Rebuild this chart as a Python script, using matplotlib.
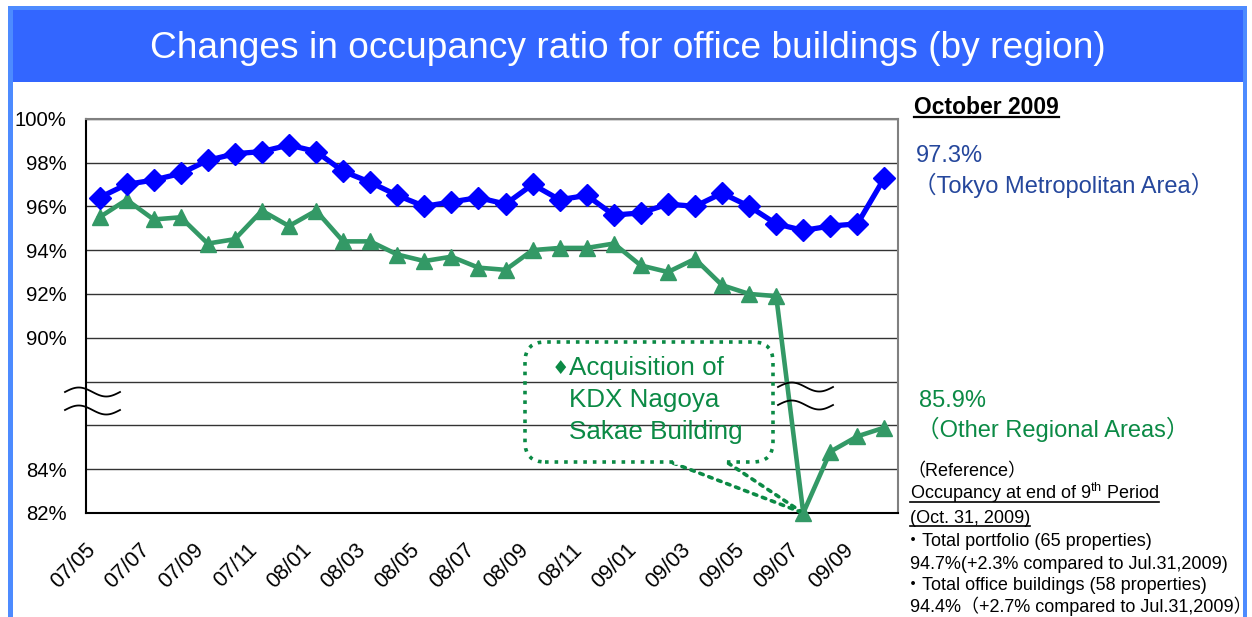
import numpy as np
import matplotlib
matplotlib.use('Agg')
import matplotlib.pyplot as plt
from matplotlib.patches import Rectangle, FancyBboxPatch
from matplotlib.lines import Line2D
from matplotlib.transforms import ScaledTranslation

plt.rcParams['font.family'] = ['Liberation Sans', 'Noto Sans CJK JP', 'DejaVu Sans']
plt.rcParams['mathtext.fontset'] = 'custom'
plt.rcParams['mathtext.rm'] = 'Liberation Sans'

# monthly occupancy ratio (%), May 2007 - Oct 2009
months = ['07/05', '07/06', '07/07', '07/08', '07/09', '07/10', '07/11', '07/12',
          '08/01', '08/02', '08/03', '08/04', '08/05', '08/06', '08/07', '08/08',
          '08/09', '08/10', '08/11', '08/12', '09/01', '09/02', '09/03', '09/04',
          '09/05', '09/06', '09/07', '09/08', '09/09', '09/10']
tokyo = [96.4, 97.0, 97.2, 97.5, 98.1, 98.4, 98.5, 98.8, 98.5, 97.6,
         97.1, 96.5, 96.0, 96.2, 96.4, 96.1, 97.0, 96.3, 96.5, 95.6,
         95.7, 96.1, 96.0, 96.6, 96.0, 95.2, 94.9, 95.1, 95.2, 97.3]
regional = [95.5, 96.3, 95.4, 95.5, 94.3, 94.5, 95.8, 95.1, 95.8, 94.4,
            94.4, 93.8, 93.5, 93.7, 93.2, 93.1, 94.0, 94.1, 94.1, 94.3,
            93.3, 93.0, 93.6, 92.4, 92.0, 91.9, 82.0, 84.8, 85.5, 85.9]
yticks = [82, 84, 86, 88, 90, 92, 94, 96, 98, 100]
ylabels = ['82%', '84%', '', '', '90%', '92%', '94%', '96%', '98%', '100%']

W, H = 1252, 617
BLUE = '#0000FF'
GREEN = '#339966'
TXT_GREEN = '#0B8A45'
TXT_BLUE = '#25479C'

fig = plt.figure(figsize=(W / 100, H / 100), dpi=100)
inch = fig.dpi_scale_trans


def P(x, y):
    # pixel position (from top-left) -> inches for dpi_scale_trans
    return x / 100, (H - y) / 100


def txt(x, y, s, size, color='black', **kw):
    return fig.text(*P(x, y), s, fontsize=size, color=color, va='baseline',
                    ha=kw.pop('ha', 'left'), transform=inch, **kw)


def underline(t, y, color='black', lw=1.2):
    bb = t.get_window_extent()
    fig.add_artist(Line2D([bb.x0 / 100, bb.x1 / 100], [(H - y) / 100] * 2,
                          color=color, lw=lw, transform=inch))


# slide frame and header band
frame = '#4D8BFF'
fig.add_artist(Rectangle(P(8, 617), 0.05, 6.11, color=frame, transform=inch, lw=0))
fig.add_artist(Rectangle(P(1243, 617), 0.04, 6.11, color=frame, transform=inch, lw=0))
fig.add_artist(Rectangle(P(8, 10), 12.39, 0.04, color=frame, transform=inch, lw=0))
fig.add_artist(Rectangle(P(13, 81.7), 12.30, 0.717, color='#3366FF', transform=inch, lw=0))
txt(628, 58.3, 'Changes in occupancy ratio for office buildings (by region)', 26.7,
    'white', ha='center')

# chart
ax = fig.add_axes([86 / W, 1 - 513 / H, (898 - 86) / W, (513 - 118.7) / H])
x = np.arange(len(months))
ax.plot(x, regional, color=GREEN, lw=3.3, marker='^', ms=12, zorder=3, clip_on=False)
ax.plot(x, tokyo, color=BLUE, lw=3.8, marker='D', ms=11.5, zorder=4, clip_on=False)

ax.set_xlim(-0.5, len(months) - 0.5)
ax.set_ylim(82, 100)
ax.set_yticks(yticks)
ax.set_yticklabels(ylabels)
ax.set_xticks(x[::2])
ax.set_xticklabels(months[::2], rotation=45, ha='right')
off = ScaledTranslation(-13 / 100, 0, inch)
for lab in ax.get_xticklabels():
    lab.set_transform(lab.get_transform() + off)
ax.tick_params(axis='both', length=0, labelsize=14.6)
ax.tick_params(axis='y', pad=14)
ax.tick_params(axis='x', pad=19, labelsize=15.5)
ax.yaxis.grid(True, color='#333333', lw=1)
ax.set_axisbelow(True)
for s in ['left', 'bottom']:
    ax.spines[s].set_color('black')
    ax.spines[s].set_linewidth(1.5)
for s in ['top', 'right']:
    ax.spines[s].set_color('#808080')
    ax.spines[s].set_linewidth(1.5)

# axis break marks
t = np.linspace(0, 1, 60)
for x0, x1, ys in [(65, 120, (392, 410)), (778, 833, (387, 405))]:
    for y0 in ys:
        fig.add_artist(Line2D((x0 + t * (x1 - x0)) / 100,
                              (H - (y0 - 4.5 * np.sin(2 * np.pi * t))) / 100,
                              color='black', lw=1.3, transform=inch))

# callout for the Nagoya acquisition
box = FancyBboxPatch(P(525, 462), 2.48, 1.20,
                     boxstyle='round,pad=0,rounding_size=0.2',
                     fill=False, ec=TXT_GREEN, lw=2.6, ls=':', transform=inch)
fig.add_artist(box)
fig.add_artist(Line2D([677 / 100, 724 / 100], [(H - 462) / 100] * 2,
                      color='white', lw=4, transform=inch))
for sx in (673, 728):
    ax.annotate('', xy=(26, regional[26]), xytext=P(sx, 463), textcoords=inch,
                arrowprops=dict(arrowstyle='-', color=TXT_GREEN, lw=2.6, ls=':',
                                shrinkA=0, shrinkB=3))
txt(552, 374, '\u2666', 14, TXT_GREEN, family=['DejaVu Sans'])
txt(569, 375, 'Acquisition of', 18.7, TXT_GREEN)
txt(569, 406.5, 'KDX Nagoya', 18.7, TXT_GREEN)
txt(569, 438.5, 'Sakae Building', 18.7, TXT_GREEN)

# right-hand notes
t1 = txt(914, 114, 'October 2009', 16.5, weight='bold')
underline(t1, 117, lw=1.6)
txt(916, 161.7, '97.3%', 17, TXT_BLUE)
txt(913, 193.3, '（Tokyo Metropolitan Area）', 17, TXT_BLUE)
txt(919, 406.7, '85.9%', 17, TXT_GREEN)
txt(916, 436.7, '（Other Regional Areas）', 17, TXT_GREEN)

fs = 13
txt(907, 476.7, '（Reference）', fs)
t2 = txt(910, 499.3, 'Occupancy at end of 9$^{\\mathrm{th}}$ Period', fs)
underline(t2, 502)
t3 = txt(910, 522.7, '(Oct. 31, 2009)', fs)
underline(t3, 525.5)
txt(904, 546, '・Total portfolio (65 properties)', fs)
txt(910, 569.3, '94.7%(+2.3% compared to Jul.31,2009)', fs)
txt(904, 590, '・Total office buildings (58 properties)', fs)
txt(910, 611.7, '94.4%（+2.7% compared to Jul.31,2009）', fs)

fig.savefig('out.png', dpi=100)
